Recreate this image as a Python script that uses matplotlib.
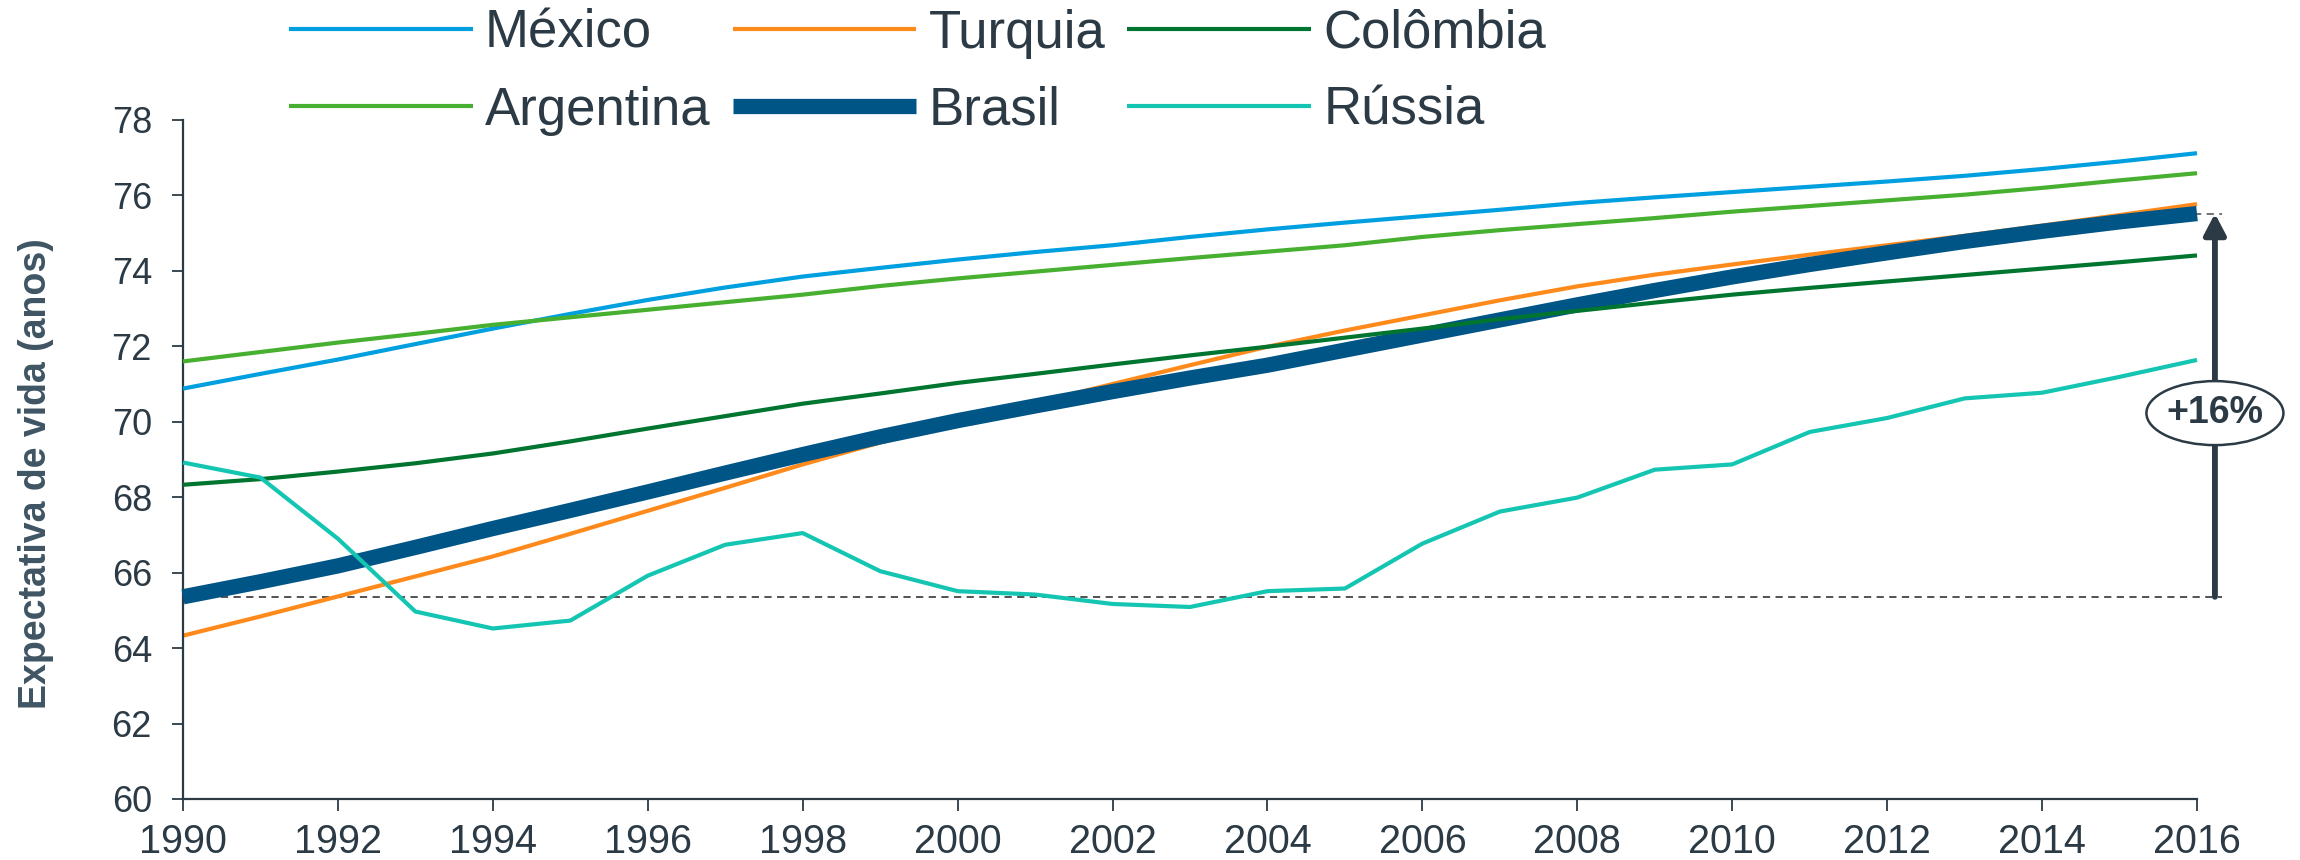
import matplotlib
matplotlib.use("Agg")
import matplotlib.pyplot as plt
from matplotlib.patches import Ellipse
import numpy as np

# Life expectancy at birth (years), 1990-2016
years = list(range(1990, 2017))

mexico = [70.88, 71.27, 71.65, 72.06, 72.47, 72.86, 73.23, 73.56, 73.85, 74.08,
          74.30, 74.50, 74.68, 74.90, 75.10, 75.28, 75.45, 75.62, 75.80, 75.95,
          76.09, 76.23, 76.37, 76.52, 76.70, 76.90, 77.12]
turquia = [64.33, 64.84, 65.37, 65.90, 66.43, 67.03, 67.64, 68.25, 68.87, 69.45,
           69.98, 70.50, 71.00, 71.50, 71.99, 72.42, 72.82, 73.22, 73.59, 73.90,
           74.17, 74.43, 74.68, 74.93, 75.20, 75.48, 75.77]
colombia = [68.33, 68.48, 68.68, 68.90, 69.16, 69.48, 69.82, 70.15, 70.48, 70.75,
            71.03, 71.27, 71.52, 71.76, 71.99, 72.23, 72.47, 72.72, 72.94, 73.16,
            73.37, 73.55, 73.72, 73.89, 74.06, 74.23, 74.41]
argentina = [71.60, 71.85, 72.10, 72.33, 72.57, 72.77, 72.97, 73.17, 73.37, 73.60,
             73.80, 73.98, 74.16, 74.34, 74.51, 74.68, 74.90, 75.08, 75.24, 75.40,
             75.57, 75.72, 75.87, 76.02, 76.20, 76.40, 76.59]
brasil = [65.36, 65.76, 66.18, 66.67, 67.17, 67.65, 68.14, 68.64, 69.13, 69.60,
          70.03, 70.42, 70.80, 71.16, 71.50, 71.90, 72.30, 72.70, 73.10, 73.48,
          73.84, 74.17, 74.48, 74.78, 75.05, 75.30, 75.52]
russia = [68.92, 68.52, 66.90, 64.97, 64.52, 64.73, 65.92, 66.74, 67.05, 66.04,
          65.51, 65.42, 65.17, 65.09, 65.51, 65.58, 66.77, 67.62, 67.99, 68.73,
          68.87, 69.73, 70.10, 70.62, 70.77, 71.19, 71.64]

x_ticks = list(range(1990, 2017, 2))
y_ticks = list(range(60, 79, 2))

TEXT = "#2b3a44"
YLAB = "#3f5563"

plt.rcParams["font.family"] = ["Liberation Sans", "DejaVu Sans"]

fig = plt.figure(figsize=(23, 8.6), dpi=100)
ax = fig.add_axes([183 / 2300, 1 - 799 / 860, 2014 / 2300, 679 / 860])

series = [
    ("México", mexico, "#00a0e0", 3.0, 4),
    ("Argentina", argentina, "#48b030", 3.0, 4),
    ("Turquia", turquia, "#ff8a1c", 3.0, 2),
    ("Brasil", brasil, "#005587", 11.0, 3),
    ("Colômbia", colombia, "#00752f", 3.0, 4),
    ("Rússia", russia, "#14c5b2", 3.0, 4),
]
handles = []
for name, vals, col, lw, z in series:
    (ln,) = ax.plot(years, vals, color=col, lw=lw, zorder=z, label=name,
                    solid_capstyle="butt", clip_on=False)
    handles.append(ln)

ax.set_xlim(1990, 2016)
ax.set_ylim(60, 78)
ax.set_xticks(x_ticks)
ax.set_yticks(y_ticks)
ax.set_xticklabels([str(v) for v in x_ticks])
ax.set_yticklabels([str(v) for v in y_ticks])

for side in ("top", "right"):
    ax.spines[side].set_visible(False)
for side in ("left", "bottom"):
    ax.spines[side].set_color(TEXT)
    ax.spines[side].set_linewidth(1.6)

ax.tick_params(axis="x", direction="out", length=8.5, width=1.3, color=TEXT,
               labelsize=28.5, labelcolor=TEXT, pad=8.5)
ax.tick_params(axis="y", direction="out", length=7.9, width=1.3, color=TEXT,
               labelsize=26, labelcolor=TEXT, pad=14.5)

fig.text(36 / 2300, 1 - 474 / 860, "Expectativa de vida (anos)", rotation=90,
         ha="center", va="center", fontsize=27, fontweight="bold", color=YLAB)

# Brazil's gain over the period: dashed reference lines and arrow
base = brasil[0]
top = brasil[-1]
gain = (top / base - 1) * 100
yx = ax.get_yaxis_transform()
ax.plot([0, 1.0124], [base, base], transform=yx, color="#444444", lw=1.3,
        ls=(0, (4, 3)), clip_on=False, zorder=1)
ax.plot([0.9985, 1.0124], [top, top], transform=yx, color="#666666", lw=1.3,
        ls=(0, (4, 3)), clip_on=False, zorder=1)
ax.annotate("", xy=(1.0089, top), xytext=(1.0089, base), xycoords=yx,
            textcoords=yx,
            arrowprops=dict(arrowstyle="-|>,head_length=0.42,head_width=0.22",
                            mutation_scale=30, lw=4.2, color=TEXT,
                            shrinkA=0, shrinkB=0),
            annotation_clip=False, zorder=5)
ell_y = (70.23 - 60) / 18
ax.add_patch(Ellipse((1.0089, ell_y), 137 / 2014, 64 / 679,
                     transform=ax.transAxes, facecolor="white",
                     edgecolor=TEXT, lw=1.8, clip_on=False, zorder=6))
ax.text(1.0089, ell_y, f"+{gain:.0f}%", transform=ax.transAxes, ha="center",
        va="center", fontsize=27, fontweight="bold", color=TEXT, zorder=7)

fig.legend(handles=handles, labels=[h.get_label() for h in handles],
           loc="upper left", bbox_to_anchor=(289 / 2300, 0.99), ncol=3,
           frameon=False, fontsize=38, handlelength=3.48, handletextpad=0.23,
           columnspacing=0.42, labelspacing=0.51, borderpad=0,
           borderaxespad=0, labelcolor=TEXT)

fig.savefig("out.png", dpi=100)
